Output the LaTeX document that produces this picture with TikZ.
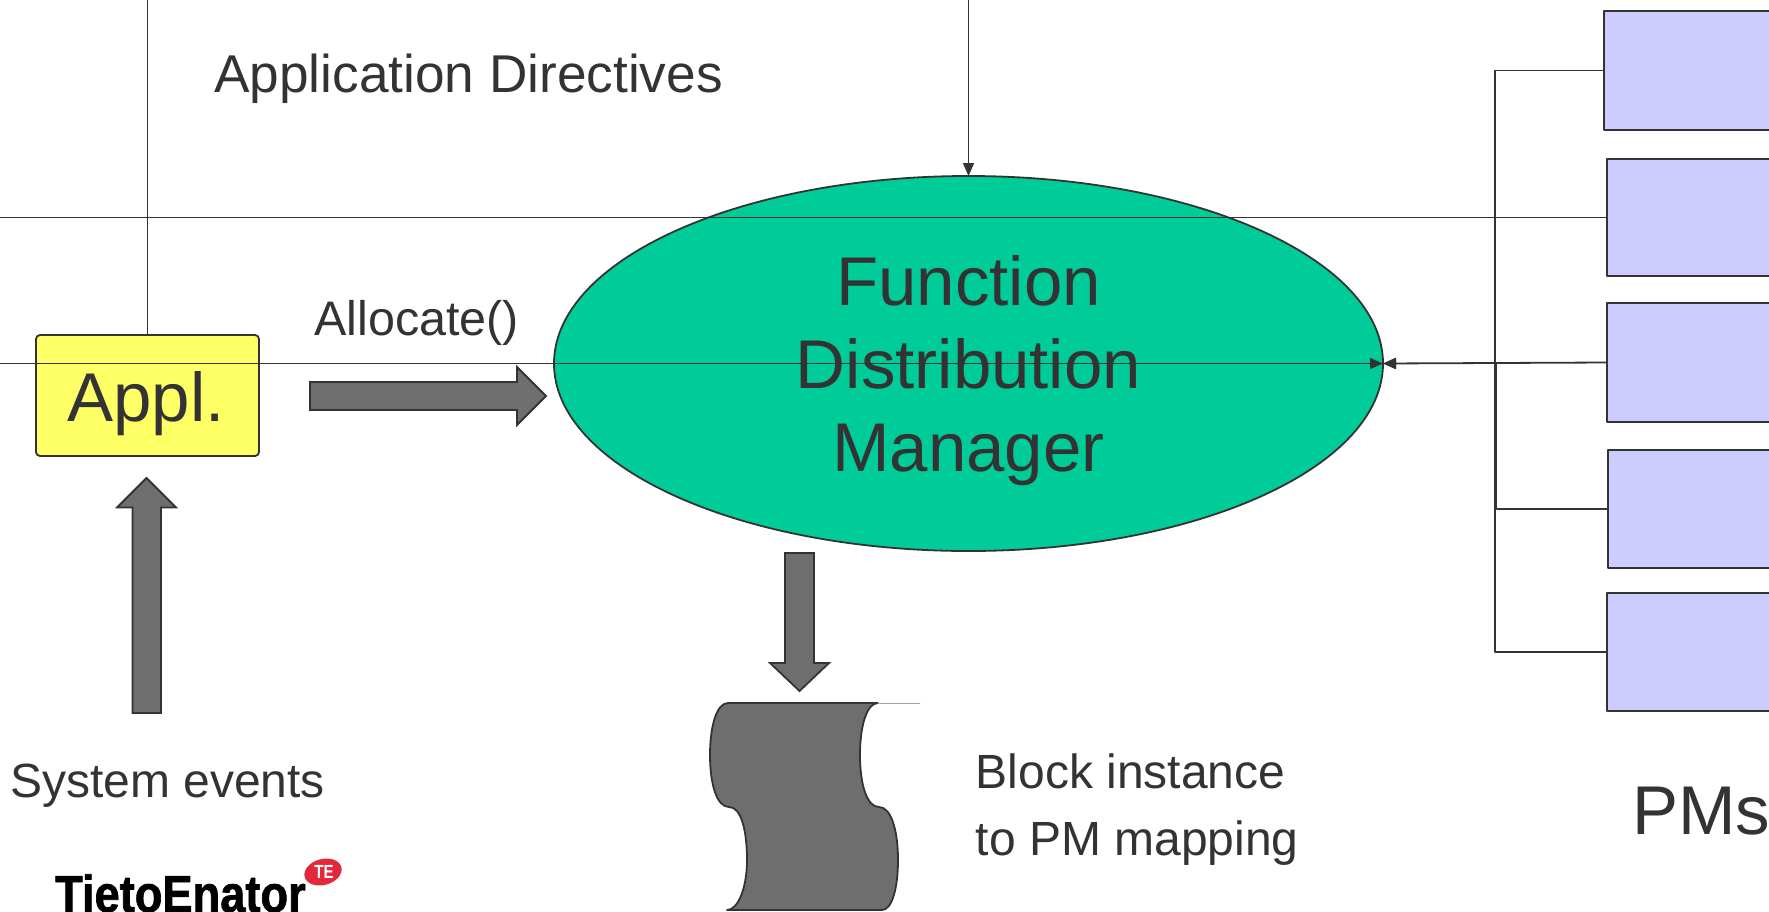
\documentclass[tikz,border=0pt]{standalone}
\usepackage{fontspec}
\setmainfont{Liberation Sans}
\newfontfamily\logofont[FakeBold=1.5]{Liberation Sans Bold}
\usetikzlibrary{arrows.meta,shapes.geometric}
\definecolor{inkgray}{HTML}{333333}
\definecolor{arrowgray}{HTML}{6E6E6E}
\definecolor{applyellow}{HTML}{FFFF66}
\definecolor{fdmgreen}{HTML}{00CC99}
\definecolor{pmblue}{HTML}{CCCCFF}
\definecolor{logored}{HTML}{E2293B}
\tikzset{
	pmbox/.style={draw=inkgray,fill=pmblue,line width=1.8pt,minimum width=200pt,inner sep=0pt,outer sep=0pt},
	linkline/.style={draw=inkgray,line width=1.8pt},
	blockarrow/.style={draw=inkgray,fill=arrowgray,line width=1.8pt,line join=miter},
	textlabel/.style={anchor=base west,inner sep=0pt,text=inkgray,font=\fontsize{48}{48}\selectfont}
}
\begin{document}
\begin{tikzpicture}
			[line cap=round,line join=round,>={Triangle[length=13pt,width=11pt]},x=1pt,y=-1pt]
			\useasboundingbox (0,0) rectangle (1769,911);
			\clip (0,0) rectangle (1769,911);
			% boxes
			\node [draw=inkgray,fill=fdmgreen,ellipse,line width=1.8pt,minimum width=829pt,minimum height=375pt,inner sep=0pt,outer sep=0pt] (fdm) at (968.5,363.5) {};
			\node [align=center,text=inkgray,inner sep=0pt,font=\fontsize{69}{83}\selectfont] (fdmtext) at (968.5,370.5) {Function\\Distribution\\Manager};
			\node [draw=inkgray,fill=applyellow,rounded corners=4pt,line width=1.8pt,minimum width=223pt,minimum height=121pt,inner sep=0pt,outer sep=0pt] (appl) at (147.5,395.5) {};
			\node [anchor=base,inner sep=0pt,text=inkgray,font=\fontsize{69}{69}\selectfont] (appltext) at (146,421) {Appl.};
			\node [pmbox,minimum height=119pt] (pma) at (1704,70.5) {};
			\node [pmbox,minimum height=117pt] (pmb) at (1707,217.5) {};
			\node [pmbox,minimum height=119pt] (pmc) at (1707,362.5) {};
			\node [pmbox,minimum height=118pt] (pmd) at (1708,509) {};
			\node [pmbox,minimum height=118pt] (pme) at (1707,652) {};
			% free ends
			\coordinate (dirleft) at (147.5,0);
			\coordinate (dirtop) at (968.5,0);
			\coordinate (busleft) at (0,217.5);
			\coordinate (callleft) at (0,363.5);
			\coordinate (trunka) at (1495,70.5);
			\coordinate (trunkc) at (1496.5,363.5);
			\coordinate (trunkd) at (1496.5,509);
			\coordinate (trunke) at (1495,652);
			% connectors
			\draw [linkline] (dirleft) -- (appl.north);
			\draw [linkline,->] (dirtop) -- (fdm.north);
			\draw [linkline] (busleft) -- (pmb.west);
			\draw [linkline,->] (callleft) -- (fdm.east);
			\draw [linkline] (pma.west) -- (trunka) -- (trunke) -- (pme.west);
			\draw [linkline,->] (pmd.west) -- (trunkd) -- (trunkc) -- (fdm.east);
			\draw [linkline,->] (pmc.west) -- (fdm.east);
			% block arrows
			\draw [blockarrow] (310,382) -- (517,382) -- (517,367) -- (546,396) -- (517,425) -- (517,410) -- (310,410) -- cycle;
			\draw [blockarrow] (132.5,713) -- (132.5,507.5) -- (117,507.5) -- (146.5,478) -- (176,507.5) -- (161,507.5) -- (161,713) -- cycle;
			\draw [blockarrow] (785,553) -- (814,553) -- (814,663) -- (829,663) -- (799.5,691) -- (770,663) -- (785,663) -- cycle;
			% tape
			\draw [blockarrow,line join=round] (728,703) .. controls (717,703) and (710,725) .. (710,755) .. controls (710,785) and (717,807) .. (729,807) .. controls (741,807) and (747,830) .. (747,860) .. controls (747,888) and (738,910) .. (727,910) -- (882,910) .. controls (892,910) and (898,888) .. (898,860) .. controls (898,830) and (891,807) .. (879,807) .. controls (867,807) and (860,785) .. (860,755) .. controls (860,725) and (867,703) .. (878,703) -- cycle;
			\draw [draw=inkgray!45,line width=.7pt] (878,703) -- (920,703);
			% labels
			\node [textlabel,font=\fontsize{53.2}{53}\selectfont] (directives) at (214,92) {Application Directives};
			\node [textlabel,font=\fontsize{48.5}{48}\selectfont] (allocate) at (314,335) {Allocate()};
			\node [textlabel] (events) at (10,797) {System events};
			\node [textlabel] (blockinst) at (975.5,788) {Block instance};
			\node [textlabel] (pmmap) at (975.5,855) {to PM mapping};
			\node [textlabel,font=\fontsize{69}{69}\selectfont] (pms) at (1632,834) {PMs};
			% logo
			\node [anchor=base west,inner sep=0pt,xscale=.87,font=\fontsize{52}{52}\logofont] (logotext) at (55,912) {TietoEnator};
			\node [ellipse,fill=logored,rotate=15,minimum width=38pt,minimum height=26pt,inner sep=0pt] (logomark) at (323,872) {};
			\node [inner sep=0pt,xscale=.8,text=white,font=\fontsize{19}{19}\selectfont\bfseries] (logote) at (324,872) {TE};
		\end{tikzpicture}
\end{document}
